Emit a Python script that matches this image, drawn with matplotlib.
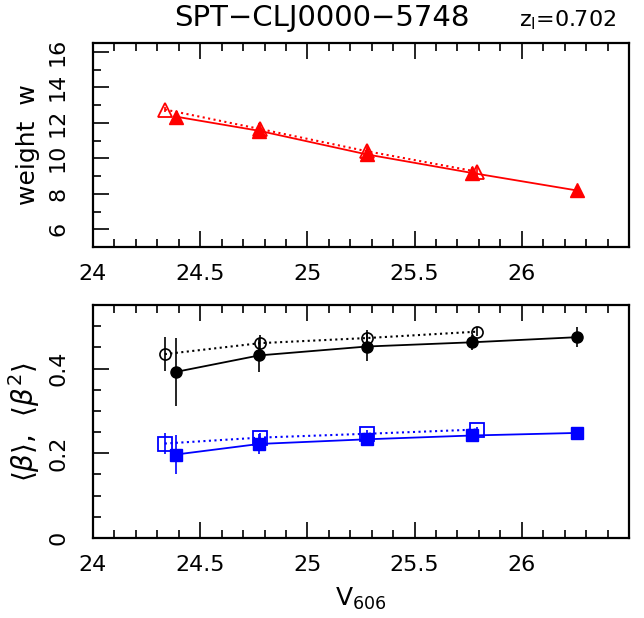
import matplotlib
matplotlib.use("Agg")
import matplotlib.pyplot as plt
from matplotlib.ticker import MultipleLocator, FixedLocator

plt.rcParams['font.family'] = ['DejaVu Sans']
plt.rcParams['mathtext.fontset'] = 'dejavusans'

# ---- data ----
title = "SPT\u2212CLJ0000\u22125748"
zlabel = r"z$_\mathregular{l}$=0.702"
xticks = [24, 24.5, 25, 25.5, 26]

# weight w, filled (solid line) and open (dotted line)
w_fill_x = [24.386, 24.775, 25.277, 25.770, 26.256]
w_fill_y = [12.35, 11.55, 10.22, 9.17, 8.19]
w_fill_e = [0.20, 0.45, 0.30, 0.35, 0.25]
w_open_x = [24.335, 24.780, 25.277, 25.790]
w_open_y = [12.75, 11.65, 10.40, 9.25]
w_open_e = [0.15, 0.35, 0.35, 0.25]

# <beta> filled/open (black), <beta^2> filled/open (blue)
b_fill_x = [24.386, 24.775, 25.277, 25.770, 26.256]
b_fill_y = [0.392, 0.431, 0.452, 0.462, 0.474]
b_fill_e = [0.080, 0.040, 0.034, 0.018, 0.024]
b_open_x = [24.335, 24.780, 25.277, 25.790]
b_open_y = [0.434, 0.460, 0.472, 0.487]
b_open_e = [0.040, 0.020, 0.018, 0.010]

b2_fill_x = [24.386, 24.775, 25.277, 25.770, 26.256]
b2_fill_y = [0.197, 0.222, 0.233, 0.242, 0.248]
b2_fill_e = [0.046, 0.023, 0.015, 0.008, 0.015]
b2_open_x = [24.335, 24.780, 25.277, 25.790]
b2_open_y = [0.223, 0.237, 0.246, 0.256]
b2_open_e = [0.025, 0.012, 0.008, 0.006]

fig = plt.figure(figsize=(6.44, 6.18), dpi=100)
W, H = 644, 618
L, R = 93, 629
ax1 = fig.add_axes([L / W, 1 - 247 / H, (R - L) / W, (247 - 43) / H])
ax2 = fig.add_axes([L / W, 1 - 538 / H, (R - L) / W, (538 - 305) / H])

fs = 16

def style(ax, ymaj, ymin):
    ax.set_xlim(24, 26.5)
    ax.xaxis.set_major_locator(FixedLocator(xticks))
    ax.xaxis.set_minor_locator(MultipleLocator(0.1))
    ax.xaxis.set_major_formatter(plt.FuncFormatter(lambda v, p: f'{v:g}'))
    ax.yaxis.set_major_locator(MultipleLocator(ymaj))
    ax.yaxis.set_minor_locator(MultipleLocator(ymin))
    ax.tick_params(which='both', direction='in', top=True, right=False,
                   labelsize=fs, width=1.2)
    ax.tick_params(which='major', length=11.5)
    ax.tick_params(which='minor', length=6)
    ax.tick_params(axis='x', which='major', pad=12)
    ax.tick_params(axis='y', which='major', pad=18)
    for s in ax.spines.values():
        s.set_linewidth(1.6)

def rot(ax):
    for lab in ax.get_yticklabels():
        lab.set_rotation(90)
        lab.set_va('center')

# top panel
red = '#ff0000'
ax1.errorbar(w_fill_x, w_fill_y, yerr=w_fill_e, color=red, marker='^', ms=10,
             ls='-', lw=1.3, elinewidth=1.2, capsize=0)
ax1.errorbar(w_open_x, w_open_y, yerr=w_open_e, color=red, marker='^', ms=10,
             mfc='none', mew=1.3, ls=':', lw=1.5, elinewidth=1.2, capsize=0)
ax1.set_ylim(5, 16.5)
style(ax1, 2, 1)
ax1.set_ylabel("weight  w", fontsize=fs + 2, labelpad=6)
rot(ax1)

# bottom panel
ax2.errorbar(b_fill_x, b_fill_y, yerr=b_fill_e, color='black', marker='o', ms=8,
             ls='-', lw=1.3, elinewidth=1.2, capsize=0)
ax2.errorbar(b_open_x, b_open_y, yerr=b_open_e, color='black', marker='o', ms=8,
             mfc='none', mew=1.2, ls=':', lw=1.5, elinewidth=1.2, capsize=0)
blue = '#0000ff'
ax2.errorbar(b2_fill_x, b2_fill_y, yerr=b2_fill_e, color=blue, marker='s', ms=9,
             ls='-', lw=1.3, elinewidth=1.2, capsize=0)
ax2.errorbar(b2_open_x, b2_open_y, yerr=b2_open_e, color=blue, marker='s', ms=10,
             mfc='none', mew=1.3, ls=':', lw=1.5, elinewidth=1.2, capsize=0)
ax2.set_ylim(0, 0.55)
style(ax2, 0.2, 0.05)
ax2.yaxis.set_major_formatter(plt.FuncFormatter(lambda v, p: '0' if abs(v) < 1e-9 else f'{v:g}'))
rot(ax2)
ax2.set_ylabel(r"$\langle\beta\rangle$,  $\langle\beta^2\rangle$", fontsize=fs + 4, labelpad=4)
ax2.set_xlabel(r"V$_\mathregular{606}$", fontsize=fs + 2, labelpad=8)

fig.text(322 / W, 1 - 18 / H, title, fontsize=fs + 5, ha='center', va='center')
fig.text(568 / W, 1 - 20 / H, zlabel, fontsize=fs, ha='center', va='center')

fig.savefig("out.png", dpi=100)
